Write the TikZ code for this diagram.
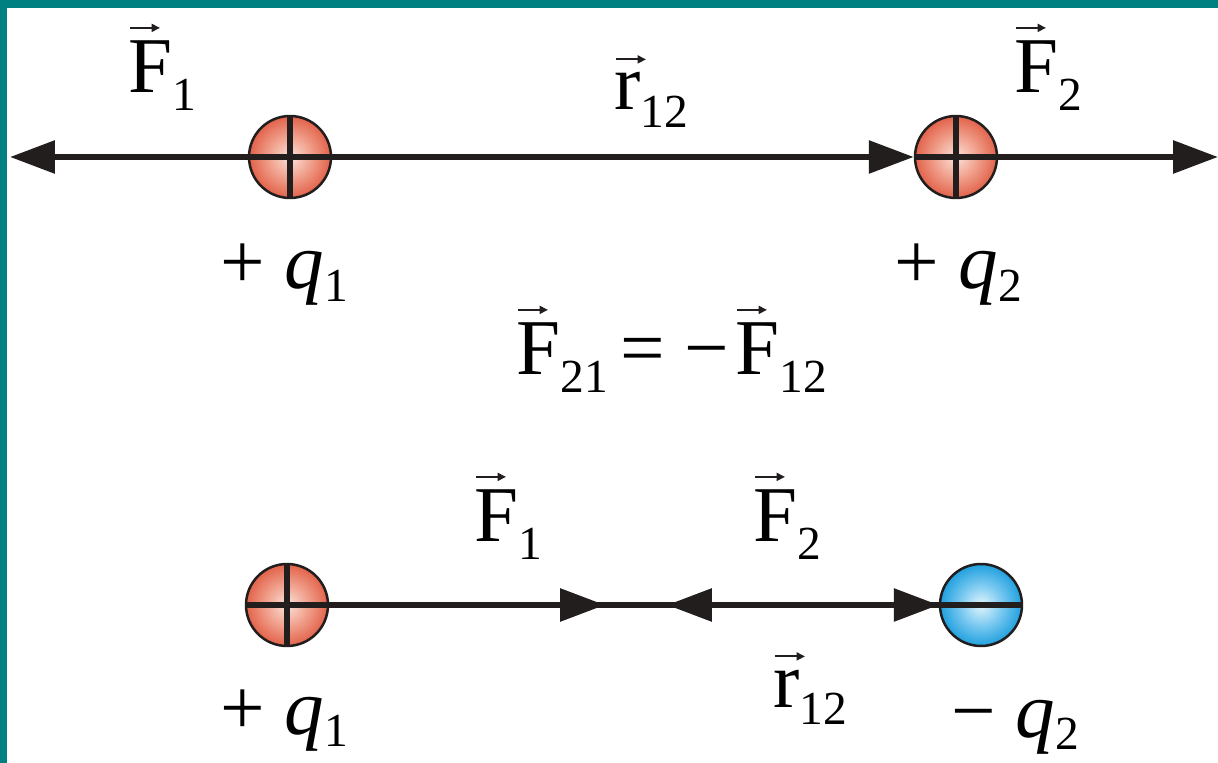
\documentclass[tikz,border=0pt]{standalone}
\usepackage{fontspec}
\setmainfont{Liberation Serif}
\usetikzlibrary{arrows.meta}

\definecolor{frameteal}{RGB}{0,128,128}
\definecolor{redin}{RGB}{252,226,218}
\definecolor{redmid}{RGB}{240,160,140}
\definecolor{redout}{RGB}{226,98,74}
\definecolor{bluein}{RGB}{226,246,253}
\definecolor{bluemid}{RGB}{120,200,240}
\definecolor{blueout}{RGB}{32,160,222}
\definecolor{inkgray}{RGB}{35,30,30}

\pgfdeclareradialshading{redball}{\pgfpoint{0bp}{0bp}}{%
  color(0bp)=(redin); color(13bp)=(redmid); color(25bp)=(redout);
  color(50bp)=(redout)}
\pgfdeclareradialshading{blueball}{\pgfpoint{0bp}{0bp}}{%
  color(0bp)=(bluein); color(13bp)=(bluemid); color(25bp)=(blueout);
  color(50bp)=(blueout)}

\newcommand{\sublow}[1]{\raisebox{-10pt}{\fontsize{27}{27}\selectfont #1}}
\newcommand{\qsub}[1]{\raisebox{-7pt}{\fontsize{27}{27}\selectfont #1}}

\begin{document}
\begin{tikzpicture}[
  x=0.02cm,
  y=-0.02cm,
  line join=round,
  label/.style={font=\fontsize{45}{54}\selectfont,inner sep=0pt,anchor=base},
  vec label/.style={label,anchor=base west},
  charge/.style={circle,inner sep=0pt,minimum size=1.64cm,
    draw=inkgray,line width=0.05cm},
  pos charge/.style={charge,shading=redball,
    path picture={
      \draw[inkgray,line width=0.12cm]
        (path picture bounding box.north) -- (path picture bounding box.south)
        (path picture bounding box.west) -- (path picture bounding box.east);
    }},
  neg charge/.style={charge,shading=blueball,
    path picture={
      \draw[inkgray,line width=0.12cm]
        (path picture bounding box.west) -- (path picture bounding box.east);
    }},
  axis line/.style={draw=inkgray,line width=0.12cm},
  force/.style={axis line,-{Triangle[length=0.9cm,width=0.64cm]}},
  two-way force/.style={axis line,
    {Triangle[length=0.9cm,width=0.64cm]}-{Triangle[length=0.9cm,width=0.64cm]}},
  vec mark/.style={draw=inkgray,line width=0.04cm,
    -{Triangle[length=0.17cm,width=0.16cm]}}
]
  \path[use as bounding box] (0,0) rectangle (1218,763);
  \fill[white] (0,0) rectangle (1218,763);
  \fill[frameteal] (0,0) rectangle (1218,8);
  \fill[frameteal] (0,0) rectangle (7,763);

  % like charges repel
  \node[pos charge] (q1a) at (290,157) {};
  \node[pos charge] (q2a) at (956,157) {};
  \coordinate (endL) at (10,157);
  \coordinate (endR) at (1218,157);
  \draw[force] (q1a.center) -- (endL);
  \draw[force] (q1a.center) -- (q2a.west);
  \draw[force] (q2a.center) -- (endR);

  \node[vec label] (F1a) at (128,93) {F\sublow{1}};
  \node[vec label] (r12a) at (614,110) {r\sublow{12}};
  \node[vec label] (F2a) at (1014,93) {F\sublow{2}};
  \node[label] (q1alab) at (284,289) {+ \textit{q}\qsub{1}};
  \node[label] (q2alab) at (958,289) {+ \textit{q}\qsub{2}};
  \node[vec label] (F21) at (516,375) {F\sublow{21}};
  \node[label] (eqsign) at (675,375) {= −};
  \node[vec label] (F12) at (735,375) {F\sublow{12}};

  % unlike charges attract
  \node[pos charge] (q1b) at (287,605) {};
  \node[neg charge] (q2b) at (981,605) {};
  \coordinate (meet1) at (605,605);
  \coordinate (meet2) at (667,605);
  \draw[axis line] (q1b.center) -- (q2b.west);
  \draw[force] (q1b.center) -- (meet1);
  \draw[two-way force] (meet2) -- (q2b.west);

  \node[vec label] (F1b) at (474,542) {F\sublow{1}};
  \node[vec label] (F2b) at (753,542) {F\sublow{2}};
  \node[vec label] (r12b) at (773,707) {r\sublow{12}};
  \node[label] (q1blab) at (284,734) {+ \textit{q}\qsub{1}};
  \node[label] (q2blab) at (1015,737) {− \textit{q}\qsub{2}};

  % vector arrows over the letters
  \foreach \vlab in {F1a,r12a,F2a,F21,F12,F1b,F2b,r12b}{
    \draw[vec mark] ([shift={(2,-13)}]\vlab.north west) -- ++(30,0);
  }
\end{tikzpicture}
\end{document}
